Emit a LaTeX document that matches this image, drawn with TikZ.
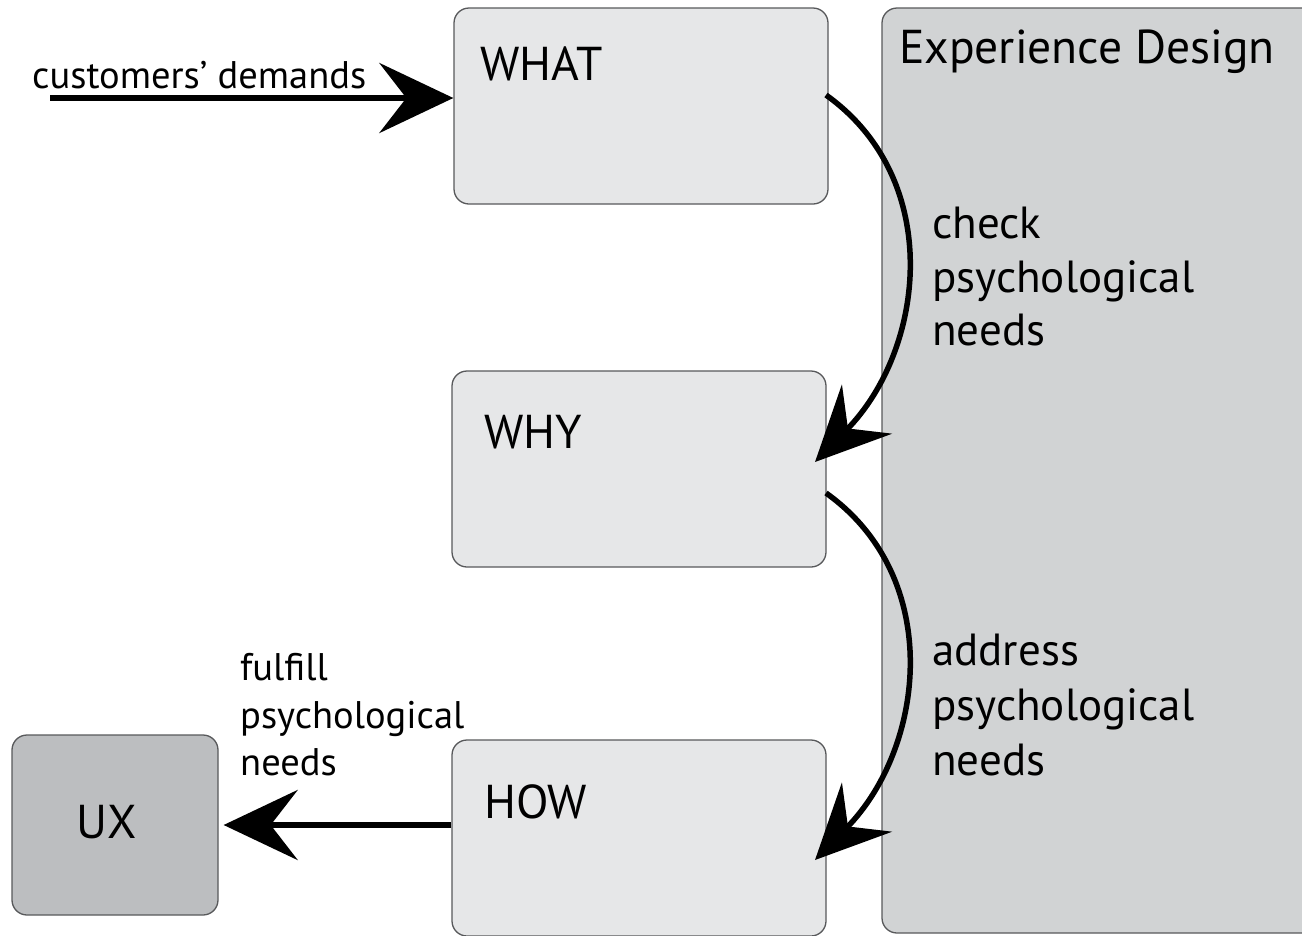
\documentclass[tikz,border=0pt]{standalone}
\usepackage{fontspec}
\setmainfont{PT Sans}
\usetikzlibrary{arrows.meta,calc}
\definecolor{boxlight}{HTML}{E6E7E8}
\definecolor{boxmid}{HTML}{D1D3D4}
\definecolor{boxdark}{HTML}{BCBEC0}
\definecolor{bordergray}{HTML}{58595B}
\begin{document}
\begin{tikzpicture}[x=1pt,y=-1pt,
  box/.style={draw=bordergray, line width=1.3pt, rounded corners=15pt, inner sep=0pt},
  bigtxt/.style={inner sep=0pt, anchor=base west, font=\fontsize{47.5}{50}\selectfont},
  midtxt/.style={inner sep=0pt, anchor=base west, font=\fontsize{45}{50}\selectfont},
  smalltxt/.style={inner sep=0pt, anchor=base west, font=\fontsize{38.5}{40}\selectfont},
  bigarrow/.style={line width=6pt, -{Stealth[length=74pt, width=70pt, inset=27pt]}},
  curvearrow/.style={line width=5.5pt, -{Stealth[length=74pt, width=70pt, inset=27pt]}}]
\useasboundingbox (0,0) rectangle (1302,935);
\node[box, fill=boxmid, minimum width=438pt, minimum height=925pt] (exp) at (1101,470.5) {};
\node[box, fill=boxlight, minimum width=374pt, minimum height=196pt] (what) at (641,106) {};
\node[box, fill=boxlight, minimum width=374pt, minimum height=196pt] (why) at (639,469) {};
\node[box, fill=boxlight, minimum width=374pt, minimum height=196pt] (how) at (639,838) {};
\node[box, fill=boxdark, minimum width=206pt, minimum height=180pt] (ux) at (115,825) {};
\node[bigtxt] (expt) at (899,63) {Experience Design};
\node[bigtxt] (whatt) at (480,80) {WHAT};
\node[bigtxt] (whyt) at (484,448) {WHY};
\node[bigtxt] (howt) at (484,818) {HOW};
\node[bigtxt, anchor=center] (uxt) at (107,822) {UX};
\node[midtxt] (c1) at (932,238) {check};
\node[midtxt] (c2) at (932,292) {psychological};
\node[midtxt] (c3) at (932,345) {needs};
\node[midtxt] (a1) at (932,665) {address};
\node[midtxt] (a2) at (932,720) {psychological};
\node[midtxt] (a3) at (932,775) {needs};
\node[smalltxt] (cd) at (32,88) {customers’ demands};
\node[smalltxt] (f1) at (240,680) {fulfill};
\node[smalltxt] (f2) at (240,728) {psychological};
\node[smalltxt] (f3) at (240,775) {needs};
\coordinate (cstart) at (50,98);
\draw[bigarrow] (cstart) -- (cstart -| what.west);
\draw[bigarrow] (how.west |- ux.east) -- ([xshift=5pt]ux.east);
\draw[curvearrow] (826,95) .. controls (945,180) and (925,350) .. (815,462);
\draw[curvearrow] (826,493) .. controls (945,578) and (925,748) .. (815,860);
\end{tikzpicture}
\end{document}
